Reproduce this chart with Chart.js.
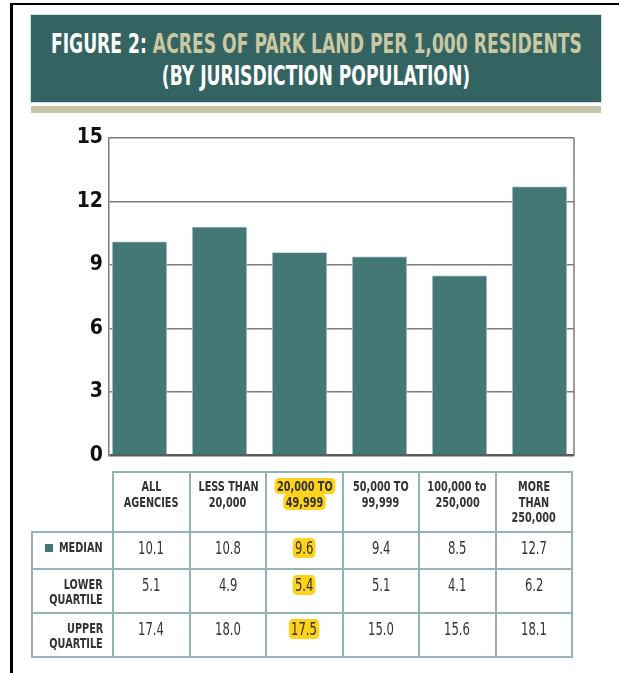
<!DOCTYPE html>
<html>
<head>
<meta charset="utf-8">
<script src="https://cdn.jsdelivr.net/npm/chart.js@4.4.1/dist/chart.umd.min.js"></script>
<style>
  html, body { margin: 0; padding: 0; background: #fff; }
  body { width: 619px; height: 673px; position: relative; overflow: hidden;
         font-family: "DejaVu Sans Condensed", "Liberation Sans", sans-serif; }
  .frame { position: absolute; left: 10px; top: 3px; width: 700px; height: 800px;
           border-top: 2.5px solid #000; border-left: 3px solid #000; }
  .banner { position: absolute; left: 31px; top: 15px; width: 570px; height: 87px;
            background: #346462; box-shadow: 0 0 0 1px #d3dddc; }
  .stripe { position: absolute; left: 31px; top: 106px; width: 570px; height: 7px; background: #c4c6a6; }
  .title { position: absolute; left: 0; width: 570px; display: flex; justify-content: center; white-space: nowrap;
           font-weight: bold; font-size: 27px; line-height: 32px; color: #cac8a2; }
  .title span.inner { display: inline-block; flex: none; transform-origin: center center; }
  .title .lead { color: #fff; }
  .t1 { top: 13px; }
  .t2 { top: 45px; color: #fff; }
  #chart { position: absolute; left: 0; top: 118px; }
  table.stats { position: absolute; left: 31px; top: 471px; width: 540px; border-collapse: collapse; table-layout: fixed; }
  table.stats td { border: 2px solid #93b4b3; padding: 0; text-align: center; vertical-align: top; color: #333; white-space: nowrap; overflow: visible; }
  table.stats td.blank { border: none; border-right: 2px solid #93b4b3; border-bottom: 2px solid #93b4b3; }
  td.head { font-weight: bold; font-size: 13.5px; line-height: 15.5px; color: #262626; padding-top: 6px !important; }
  td.rowlab { position: relative; text-align: right !important; font-weight: bold; font-size: 13.5px; line-height: 15px;
              color: #262626; padding: 7px 9px 0 0 !important; }
  td.val { font-size: 17px; line-height: 20px; padding-top: 5px !important; color: #3a3a3a; }
  .sq { display: inline-block; transform: scaleX(0.8); transform-origin: center center; }
  td.rowlab .sq { transform-origin: right center; }
  td.val .sq { transform: scaleX(0.76); }
  .swatch { position: absolute; left: 12px; top: 11px; width: 8px; height: 8px; background: #447877; }
  .hl { background: #ffd21c; border-radius: 5px; padding: 0 3px; }
</style>
</head>
<body>
<div class="frame"></div>
<div class="banner">
  <div class="title t1"><span class="inner"><span class="lead">FIGURE 2:</span> ACRES OF PARK LAND PER 1,000 RESIDENTS</span></div>
  <div class="title t2"><span class="inner">(BY JURISDICTION POPULATION)</span></div>
</div>
<div class="stripe"></div>
<canvas id="chart" width="619" height="356"></canvas>
<table class="stats" id="stats"></table>

<script>
// Jurisdiction population groups (header lines as printed)
const categories = [
  ['ALL', 'AGENCIES'],
  ['LESS THAN', '20,000'],
  ['20,000 TO', '49,999'],
  ['50,000 TO', '99,999'],
  ['100,000 to', '250,000'],
  ['MORE', 'THAN', '250,000'],
];
// Acres of park land per 1,000 residents
const median        = [10.1, 10.8, 9.6, 9.4, 8.5, 12.7];
const lowerQuartile = [5.1, 4.9, 5.4, 5.1, 4.1, 6.2];
const upperQuartile = [17.4, 18.0, 17.5, 15.0, 15.6, 18.1];
const highlighted = 2;
const yTicks = [0, 3, 6, 9, 12, 15];

const BAR = '#447877';
const GRID = '#7c7c7c';

// squeeze both banner lines by the same factor so line one spans the banner
(function fitTitle() {
  const lines = document.querySelectorAll('.title .inner');
  const w = lines[0].getBoundingClientRect().width;
  const k = 531 / w;
  lines.forEach(el => { el.style.transform = 'scaleX(' + k + ')'; });
})();

// stats table below the plot
(function buildTable() {
  const t = document.getElementById('stats');
  const colW = [81, 76.5, 76.5, 76.5, 76.5, 76.5, 76.5];
  const cg = document.createElement('colgroup');
  colW.forEach(w => { const c = document.createElement('col'); c.style.width = w + 'px'; cg.appendChild(c); });
  t.appendChild(cg);

  const mark = (txt, i) => i === highlighted ? '<span class="hl">' + txt + '</span>' : txt;
  const sq = (txt) => '<span class="sq">' + txt + '</span>';

  let html = '<tr style="height:60px"><td class="blank"></td>';
  categories.forEach((lines, i) => {
    html += '<td class="head">' + lines.map(l => sq(mark(l, i))).join('<br>') + '</td>';
  });
  html += '</tr>';

  const rows = [
    { label: ['MEDIAN'], swatch: true, values: median, h: 37 },
    { label: ['LOWER', 'QUARTILE'], values: lowerQuartile, h: 44 },
    { label: ['UPPER', 'QUARTILE'], values: upperQuartile, h: 44 },
  ];
  rows.forEach(r => {
    html += '<tr style="height:' + r.h + 'px"><td class="rowlab">' +
      (r.swatch ? '<span class="swatch"></span>' : '') + r.label.map(sq).join('<br>') + '</td>';
    r.values.forEach((v, i) => { html += '<td class="val">' + sq(mark(v.toFixed(1), i)) + '</td>'; });
    html += '</tr>';
  });
  t.innerHTML += html;
})();

// right-hand edge of the plot box
const plotFrame = {
  id: 'plotFrame',
  beforeDatasetsDraw(chart) {
    const { ctx, chartArea: a } = chart;
    ctx.save();
    ctx.strokeStyle = GRID;
    ctx.lineWidth = 1.5;
    ctx.beginPath();
    ctx.moveTo(a.right, a.top);
    ctx.lineTo(a.right, a.bottom);
    ctx.stroke();
    ctx.restore();
  },
};

new Chart(document.getElementById('chart'), {
  type: 'bar',
  data: {
    datasets: [{
      label: 'Median',
      data: median.map((v, i) => ({ x: i, y: v })),
      backgroundColor: BAR,
      borderColor: 'rgba(196,218,217,0.9)',
      borderWidth: 1,
      barThickness: 55,
    }],
  },
  options: {
    responsive: false,
    animation: false,
    layout: { padding: { left: 49, right: 45, top: 20, bottom: 11 } },
    scales: {
      x: {
        type: 'linear',
        min: -0.38125,
        max: 5.43125,
        offset: false,
        display: false,
      },
      y: {
        min: 0,
        max: 15,
        afterFit: (s) => { s.width = 60; },
        afterBuildTicks: (s) => { s.ticks = yTicks.map(v => ({ value: v })); },
        grid: {
          drawTicks: false,
          color: (c) => c.tick && c.tick.value === 0 ? '#5a5a5a' : GRID,
          lineWidth: (c) => c.tick && c.tick.value === 0 ? 2.5 : 1.5,
        },
        border: { color: GRID, width: 1.5 },
        ticks: {
          padding: 6,
          color: '#111',
          font: { family: '"DejaVu Sans Condensed", sans-serif', size: 21, weight: 'bold' },
        },
      },
    },
    plugins: {
      legend: { display: false },
      tooltip: { enabled: false },
    },
  },
  plugins: [plotFrame],
});
</script>
</body>
</html>
